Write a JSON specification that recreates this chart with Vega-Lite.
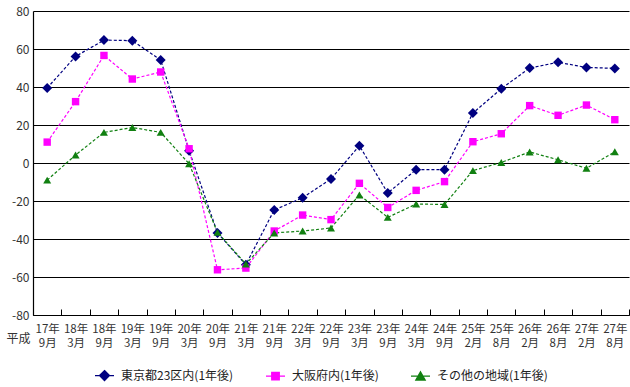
{
  "$schema": "https://vega.github.io/schema/vega-lite/v6.json",
  "width": 596,
  "height": 304,
  "autosize": {"type": "none"},
  "padding": {"left": 33, "top": 11, "right": 1, "bottom": 72},
  "background": "white",
  "config": {
    "font": "Noto Sans CJK JP",
    "view": {"stroke": null}
  },
  "datasets": {
    "rows": [
      {"d": "17年9月", "s": "東京都23区内(1年後)", "v": 39.5},
      {"d": "18年3月", "s": "東京都23区内(1年後)", "v": 56.1},
      {"d": "18年9月", "s": "東京都23区内(1年後)", "v": 64.7},
      {"d": "19年3月", "s": "東京都23区内(1年後)", "v": 64.4},
      {"d": "19年9月", "s": "東京都23区内(1年後)", "v": 54.2},
      {"d": "20年3月", "s": "東京都23区内(1年後)", "v": 6.5},
      {"d": "20年9月", "s": "東京都23区内(1年後)", "v": -36.8},
      {"d": "21年3月", "s": "東京都23区内(1年後)", "v": -53.5},
      {"d": "21年9月", "s": "東京都23区内(1年後)", "v": -24.7},
      {"d": "22年3月", "s": "東京都23区内(1年後)", "v": -18.3},
      {"d": "22年9月", "s": "東京都23区内(1年後)", "v": -8.4},
      {"d": "23年3月", "s": "東京都23区内(1年後)", "v": 9.1},
      {"d": "23年9月", "s": "東京都23区内(1年後)", "v": -15.8},
      {"d": "24年3月", "s": "東京都23区内(1年後)", "v": -3.5},
      {"d": "24年9月", "s": "東京都23区内(1年後)", "v": -3.5},
      {"d": "25年2月", "s": "東京都23区内(1年後)", "v": 26.3},
      {"d": "25年8月", "s": "東京都23区内(1年後)", "v": 39.1},
      {"d": "26年2月", "s": "東京都23区内(1年後)", "v": 50.0},
      {"d": "26年8月", "s": "東京都23区内(1年後)", "v": 53.0},
      {"d": "27年2月", "s": "東京都23区内(1年後)", "v": 50.3},
      {"d": "27年8月", "s": "東京都23区内(1年後)", "v": 49.8},
      {"d": "17年9月", "s": "大阪府内(1年後)", "v": 11.0},
      {"d": "18年3月", "s": "大阪府内(1年後)", "v": 32.3},
      {"d": "18年9月", "s": "大阪府内(1年後)", "v": 56.6},
      {"d": "19年3月", "s": "大阪府内(1年後)", "v": 44.2},
      {"d": "19年9月", "s": "大阪府内(1年後)", "v": 47.9},
      {"d": "20年3月", "s": "大阪府内(1年後)", "v": 7.5},
      {"d": "20年9月", "s": "大阪府内(1年後)", "v": -56.2},
      {"d": "21年3月", "s": "大阪府内(1年後)", "v": -55.3},
      {"d": "21年9月", "s": "大阪府内(1年後)", "v": -35.8},
      {"d": "22年3月", "s": "大阪府内(1年後)", "v": -27.4},
      {"d": "22年9月", "s": "大阪府内(1年後)", "v": -29.8},
      {"d": "23年3月", "s": "大阪府内(1年後)", "v": -10.7},
      {"d": "23年9月", "s": "大阪府内(1年後)", "v": -23.4},
      {"d": "24年3月", "s": "大阪府内(1年後)", "v": -14.4},
      {"d": "24年9月", "s": "大阪府内(1年後)", "v": -9.8},
      {"d": "25年2月", "s": "大阪府内(1年後)", "v": 11.2},
      {"d": "25年8月", "s": "大阪府内(1年後)", "v": 15.4},
      {"d": "26年2月", "s": "大阪府内(1年後)", "v": 30.2},
      {"d": "26年8月", "s": "大阪府内(1年後)", "v": 25.1},
      {"d": "27年2月", "s": "大阪府内(1年後)", "v": 30.5},
      {"d": "27年8月", "s": "大阪府内(1年後)", "v": 22.8},
      {"d": "17年9月", "s": "その他の地域(1年後)", "v": -9.0},
      {"d": "18年3月", "s": "その他の地域(1年後)", "v": 4.2},
      {"d": "18年9月", "s": "その他の地域(1年後)", "v": 16.1},
      {"d": "19年3月", "s": "その他の地域(1年後)", "v": 18.7},
      {"d": "19年9月", "s": "その他の地域(1年後)", "v": 16.1},
      {"d": "20年3月", "s": "その他の地域(1年後)", "v": -0.4},
      {"d": "20年9月", "s": "その他の地域(1年後)", "v": -36.5},
      {"d": "21年3月", "s": "その他の地域(1年後)", "v": -53.2},
      {"d": "21年9月", "s": "その他の地域(1年後)", "v": -36.8},
      {"d": "22年3月", "s": "その他の地域(1年後)", "v": -35.8},
      {"d": "22年9月", "s": "その他の地域(1年後)", "v": -34.2},
      {"d": "23年3月", "s": "その他の地域(1年後)", "v": -16.8},
      {"d": "23年9月", "s": "その他の地域(1年後)", "v": -28.6},
      {"d": "24年3月", "s": "その他の地域(1年後)", "v": -21.6},
      {"d": "24年9月", "s": "その他の地域(1年後)", "v": -21.8},
      {"d": "25年2月", "s": "その他の地域(1年後)", "v": -4.0},
      {"d": "25年8月", "s": "その他の地域(1年後)", "v": 0.3},
      {"d": "26年2月", "s": "その他の地域(1年後)", "v": 5.8},
      {"d": "26年8月", "s": "その他の地域(1年後)", "v": 1.7},
      {"d": "27年2月", "s": "その他の地域(1年後)", "v": -2.8},
      {"d": "27年8月", "s": "その他の地域(1年後)", "v": 5.9}
    ]
  },
  "data": {"name": "rows"},
  "encoding": {
    "x": {
      "field": "d",
      "type": "nominal",
      "sort": null,
      "scale": {"type": "band", "paddingInner": 0, "paddingOuter": 0},
      "axis": {
        "title": "平成",
        "titleAngle": 0,
        "titleX": -15,
        "titleY": 23,
        "titleAlign": "center",
        "titleBaseline": "middle",
        "titleFontSize": 12,
        "titleFontWeight": "normal",
        "titleColor": "#333333",
        "labelAngle": 0,
        "labelExpr": "[slice(datum.label,0,3), slice(datum.label,3)]",
        "labelFontSize": 11.5,
        "labelColor": "#333333",
        "labelLineHeight": 14,
        "labelOverlap": false,
        "labelBound": false,
        "labelPadding": 14,
        "tickBand": "extent",
        "tickSize": -6,
        "tickColor": "#000000",
        "tickWidth": 1,
        "domainColor": "#000000",
        "domainWidth": 1.2,
        "grid": false
      }
    },
    "y": {
      "field": "v",
      "type": "quantitative",
      "scale": {"domain": [-80, 80], "nice": false},
      "axis": {
        "title": null,
        "values": [-80, -60, -40, -20, 0, 20, 40, 60, 80],
        "labelExpr": "toString(datum.value)",
        "labelFontSize": 12,
        "labelColor": "#333333",
        "labelPadding": 4,
        "ticks": false,
        "domainColor": "#000000",
        "domainWidth": 1.2,
        "grid": true,
        "gridColor": "#000000",
        "gridWidth": 1.2
      }
    },
    "color": {
      "field": "s",
      "type": "nominal",
      "scale": {
        "domain": ["東京都23区内(1年後)", "大阪府内(1年後)", "その他の地域(1年後)"],
        "range": ["#000080", "#ff00ff", "#118011"]
      },
      "legend": {
        "title": null,
        "orient": "none",
        "direction": "horizontal",
        "legendX": 61,
        "legendY": 354,
        "padding": 0,
        "labelFontSize": 12,
        "labelColor": "#222222",
        "symbolSize": 361,
        "symbolStrokeWidth": 1.2,
        "symbolOpacity": 1,
        "columnPadding": 29,
        "labelOffset": 6,
        "encode": {
          "symbols": {
            "update": {
              "shape": {"signal": "datum.value === '東京都23区内(1年後)' ? 'M-1,0L1,0M0,-0.53L0.53,0L0,0.53L-0.53,0Z' : datum.value === '大阪府内(1年後)' ? 'M-1,0L1,0M-0.4,-0.4L0.4,-0.4L0.4,0.4L-0.4,0.4Z' : 'M-1,0L1,0M0,-0.46L0.5,0.42L-0.5,0.42Z'"},
              "fill": {"signal": "scale('color', datum.value)"},
              "stroke": {"signal": "scale('color', datum.value)"},
              "strokeWidth": {"value": 1.2},
              "strokeDash": {"value": []},
              "opacity": {"value": 1}
            }
          }
        }
      }
    }
  },
  "layer": [
    {
      "mark": {"type": "line", "strokeWidth": 1.2, "strokeDash": [3, 2]},
      "encoding": {}
    },
    {
      "transform": [{"filter": {"field": "s", "equal": "東京都23区内(1年後)"}}],
      "mark": {"type": "point", "filled": true, "opacity": 1, "size": 100, "shape": "diamond"}
    },
    {
      "transform": [{"filter": {"field": "s", "equal": "大阪府内(1年後)"}}],
      "mark": {"type": "point", "filled": true, "opacity": 1, "size": 55, "shape": "square"}
    },
    {
      "transform": [{"filter": {"field": "s", "equal": "その他の地域(1年後)"}}],
      "mark": {"type": "point", "filled": true, "opacity": 1, "size": 64, "shape": "triangle-up"}
    }
  ]
}
